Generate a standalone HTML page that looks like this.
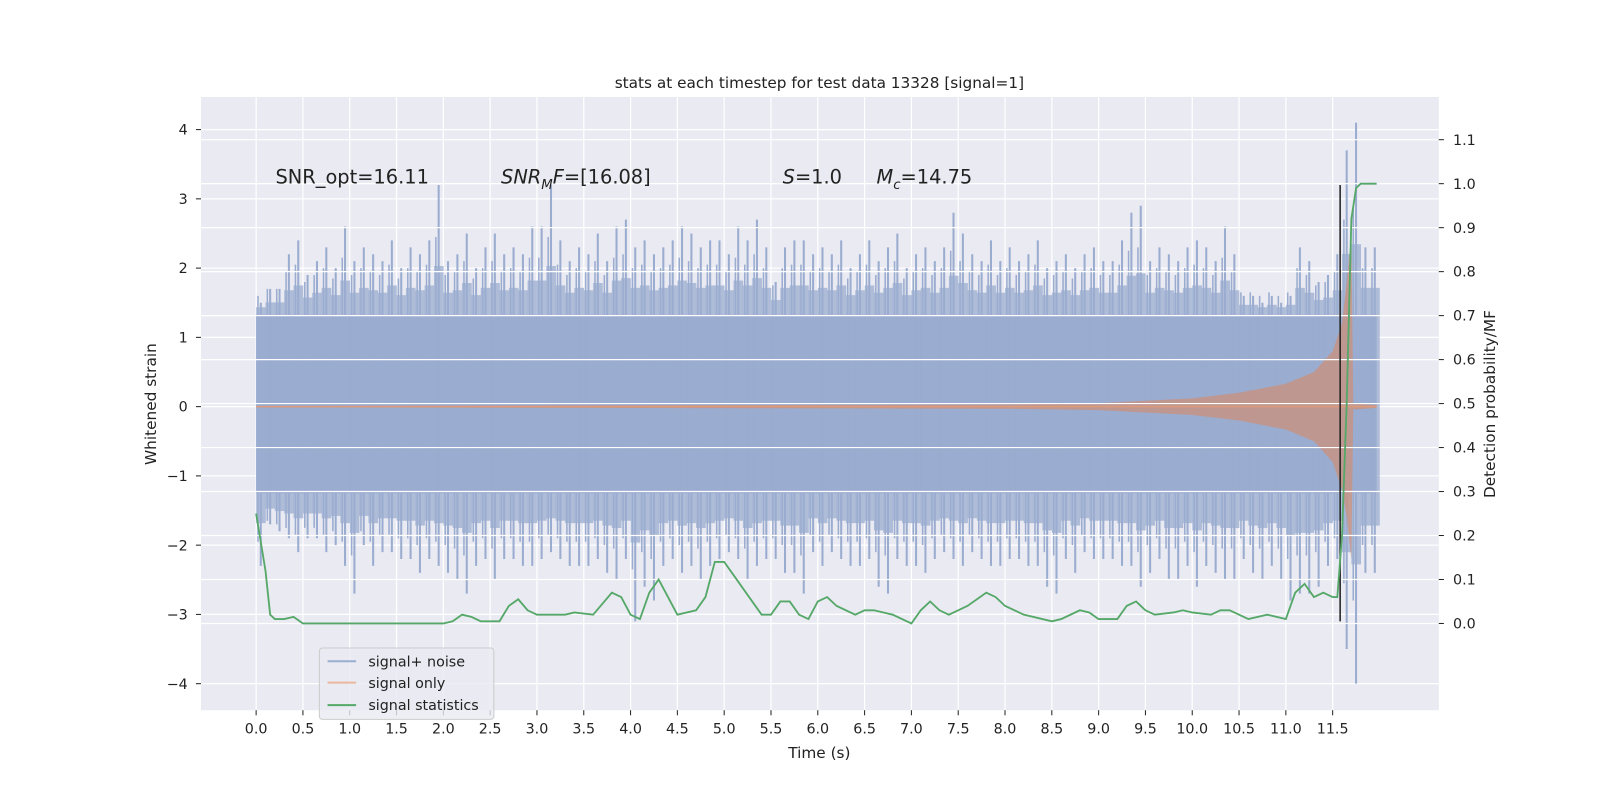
<!DOCTYPE html>
<html><head><meta charset="utf-8"><style>
html,body{margin:0;padding:0;width:1600px;height:800px;overflow:hidden;background:#fff}
svg{display:block;font-family:"DejaVu Sans","Liberation Sans",sans-serif}
</style></head><body>
<svg id="chart" width="1600" height="800" viewBox="0 0 1568 784" xmlns="http://www.w3.org/2000/svg">
<rect x="197" y="95" width="1213" height="601" fill="#eaeaf2"/>
<g id="grid-left"></g>
<g id="noise"></g>
<g id="sig"></g>
<g id="grid-right"></g>
<g id="stat"></g>
<g id="axes"></g>
<text x="803" y="86" font-size="15" text-anchor="middle" fill="#222">stats at each timestep for test data 13328 [signal=1]</text>
<text x="803" y="743" font-size="15" text-anchor="middle" fill="#222">Time (s)</text>
<text transform="translate(153,396) rotate(-90)" font-size="15" text-anchor="middle" fill="#222">Whitened strain</text>
<text transform="translate(1465,396) rotate(-90)" font-size="15" text-anchor="middle" fill="#222">Detection probability/MF</text>
<g font-size="19" fill="#222">
<text x="270" y="180">SNR_opt=16.11</text>
<text x="491" y="180"><tspan font-style="italic">SNR</tspan><tspan font-style="italic" font-size="13" dy="5">M</tspan><tspan font-style="italic" dy="-5">F</tspan>=[16.08]</text>
<text x="767" y="180"><tspan font-style="italic">S</tspan>=1.0</text>
<text x="859" y="180"><tspan font-style="italic">M</tspan><tspan font-style="italic" font-size="13" dy="5">c</tspan><tspan dy="-5">=14.75</tspan></text>
</g>
<g>
<rect x="313" y="635" width="171" height="70" rx="3" fill="#eaeaf2" fill-opacity="0.8" stroke="#ccc"/>
<line x1="321" y1="648" x2="349" y2="648" stroke="#9aaed2" stroke-width="2"/>
<text x="361" y="653" font-size="14" fill="#222">signal+ noise</text>
<line x1="321" y1="669" x2="349" y2="669" stroke="#e8b79e" stroke-width="2"/>
<text x="361" y="674" font-size="14" fill="#222">signal only</text>
<line x1="321" y1="691" x2="349" y2="691" stroke="#55a868" stroke-width="2"/>
<text x="361" y="696" font-size="14" fill="#222">signal statistics</text>
</g>
</svg>
<script>
const xTicks=[0,0.5,1,1.5,2,2.5,3,3.5,4,4.5,5,5.5,6,6.5,7,7.5,8,8.5,9,9.5,10,10.5,11,11.5];
const yTicks=[-4,-3,-2,-1,0,1,2,3,4];
const rTicks=[0,0.1,0.2,0.3,0.4,0.5,0.6,0.7,0.8,0.9,1.0,1.1];
// noise peaks per 0.1s bin
const noiseUp=[1.5,1.7,1.7,2.2,2.4,1.9,2.1,2.3,2.0,2.6,2.1,2.3,2.2,2.1,2.4,2.0,2.3,2.2,2.4,3.2,2.1,2.2,2.5,2.0,2.3,2.5,2.2,2.3,2.2,2.6,2.6,3.2,2.4,2.1,2.3,2.2,2.5,2.1,2.6,2.7,2.3,2.4,2.2,2.3,2.4,2.6,2.5,2.3,2.4,2.4,2.2,2.6,2.4,2.7,2.3,1.8,2.3,2.4,2.4,2.2,2.3,2.2,2.4,2.0,2.2,2.4,2.1,2.3,2.5,2.0,2.2,2.3,2.1,2.3,2.8,2.5,2.2,2.1,2.4,2.1,2.3,2.1,2.2,2.4,2.0,2.1,2.2,2.0,2.2,2.3,2.1,2.1,2.4,2.8,2.9,2.1,2.3,2.2,2.1,2.3,2.4,2.3,2.1,2.6,2.2,1.6,1.6,1.5,1.6,1.5,1.6,2.3,2.1,1.8,1.9,2.2,3.7,4.1,2.3,2.3];
const noiseDn=[-2.3,-1.7,-1.8,-1.9,-2.1,-1.9,-1.9,-2.1,-2.0,-2.3,-2.7,-2.0,-2.3,-2.1,-2.1,-2.2,-2.2,-2.4,-2.2,-2.3,-2.4,-2.5,-2.7,-2.3,-2.2,-2.5,-2.2,-2.2,-2.3,-2.3,-2.2,-2.1,-2.2,-2.3,-2.3,-2.3,-2.2,-2.4,-2.5,-2.2,-3.1,-2.6,-2.8,-2.3,-2.2,-2.4,-2.3,-2.5,-2.3,-2.2,-2.1,-2.2,-2.5,-2.3,-2.2,-2.2,-2.4,-2.4,-2.7,-2.1,-2.3,-2.1,-2.2,-2.3,-2.3,-2.2,-2.6,-2.7,-2.2,-2.3,-2.3,-2.4,-2.2,-2.1,-2.2,-2.3,-2.1,-2.2,-2.3,-2.3,-2.2,-2.2,-2.3,-2.3,-2.6,-2.7,-2.2,-2.4,-2.1,-2.2,-2.2,-2.2,-2.3,-2.3,-2.6,-2.4,-2.2,-2.5,-2.5,-2.3,-2.6,-2.3,-2.4,-2.5,-2.5,-2.2,-2.4,-2.5,-2.3,-2.5,-2.8,-2.7,-2.7,-2.6,-2.3,-2.2,-3.5,-4.0,-2.4,-2.4];
const sigT=[0,8,9,10,10.5,11,11.3,11.5,11.6,11.65,11.7,11.72,11.97];
const sigAmp=[0.01,0.03,0.05,0.12,0.2,0.33,0.5,0.8,1.2,1.8,2.5,0.05,0.02];
const statT=[0,0.1,0.15,0.2,0.3,0.4,0.5,0.7,1.0,1.5,1.8,2.0,2.1,2.2,2.3,2.4,2.6,2.7,2.8,2.9,3.0,3.3,3.4,3.6,3.7,3.8,3.9,4.0,4.1,4.2,4.3,4.4,4.5,4.7,4.8,4.9,5.0,5.1,5.2,5.4,5.5,5.6,5.7,5.8,5.9,6.0,6.1,6.2,6.4,6.5,6.6,6.8,7.0,7.1,7.2,7.3,7.4,7.5,7.6,7.8,7.9,8.0,8.2,8.4,8.5,8.6,8.8,8.9,9.0,9.2,9.3,9.4,9.5,9.6,9.8,9.9,10.0,10.2,10.3,10.4,10.5,10.6,10.8,11.0,11.1,11.2,11.3,11.4,11.5,11.55,11.6,11.65,11.7,11.75,11.8,11.97];
const statV=[0.25,0.12,0.02,0.01,0.01,0.015,0.0,0.0,0.0,0.0,0.0,0.0,0.005,0.02,0.015,0.005,0.005,0.04,0.055,0.03,0.02,0.02,0.025,0.02,0.045,0.07,0.06,0.02,0.01,0.07,0.1,0.06,0.02,0.03,0.06,0.14,0.14,0.11,0.08,0.02,0.02,0.05,0.05,0.02,0.01,0.05,0.06,0.04,0.02,0.03,0.03,0.02,0.0,0.03,0.05,0.03,0.02,0.03,0.04,0.07,0.06,0.04,0.02,0.01,0.005,0.01,0.03,0.025,0.01,0.01,0.04,0.05,0.03,0.02,0.025,0.03,0.025,0.02,0.03,0.03,0.02,0.01,0.02,0.01,0.07,0.09,0.06,0.07,0.06,0.06,0.2,0.5,0.92,0.99,1.0,1.0];
const vline=[11.58,3.2,-3.1];

const NS='http://www.w3.org/2000/svg';
const X=t=>251+t*(1306-251)/11.5;
const Y=v=>398.5-v*67.875;
const R=p=>611-p*431;
function mk(tag,attrs,parent){const e=document.createElementNS(NS,tag);for(const k in attrs)e.setAttribute(k,attrs[k]);document.getElementById(parent).appendChild(e);return e;}

yTicks.forEach(v=>{const l=mk('line',{x1:197,x2:1410,y1:Y(v),y2:Y(v),stroke:'#fff','stroke-width':1.2},'grid-left');

});
xTicks.forEach(t=>{const l=mk('line',{x1:X(t),x2:X(t),y1:95,y2:696,stroke:'#fff','stroke-width':1.2},'grid-left');

});

const band=mk('rect',{x:X(0),y:Y(1.32),width:X(11.97)-X(0),height:Y(-1.25)-Y(1.32),fill:'#9aaccf'},'noise');


noiseUp.forEach((u,i)=>{
 const d=noiseDn[i];const t=i*0.1;
 const hu=Math.min(u,1.4+(u-1.4)*0.35), hd=Math.max(d,-1.35+(d+1.35)*0.35);
 const r=mk('rect',{x:X(t),y:Y(hu),width:X(0.1)-X(0)+0.3,height:Y(hd)-Y(hu),fill:'#9aaccf','fill-opacity':0.75},'noise');
 
 
 const s=mk('line',{x1:X(t+0.05),x2:X(t+0.05),y1:Y(u),y2:Y(d),stroke:'#9aaccf','stroke-width':2},'noise');
 
 
 const s2=mk('line',{x1:X(t+0.02),x2:X(t+0.02),y1:Y((u+1.4)/2+0.15),y2:Y((d-1.3)/2-0.15),stroke:'#9aaccf','stroke-width':1.5},'noise');
 
 
});

let up='',dn='';
sigT.forEach((t,i)=>{up+=(i?'L':'M')+X(t)+','+Y(sigAmp[i]);});
for(let i=sigT.length-1;i>=0;i--){dn+='L'+X(sigT[i])+','+Y(-sigAmp[i]*(sigT[i]>11.6?0.88:1));}
const sp=mk('path',{d:up+dn+'Z',fill:'#cf8f76','fill-opacity':0.7},'sig');


const sl=mk('line',{x1:X(0),x2:X(11.97),y1:Y(0),y2:Y(0),stroke:'#dd9a7a','stroke-width':1.5},'sig');



rTicks.forEach(p=>{const l=mk('line',{x1:197,x2:1410,y1:R(p),y2:R(p),stroke:'#fff','stroke-width':1.2},'grid-right');

});

const vl=mk('line',{x1:X(vline[0]),x2:X(vline[0]),y1:Y(vline[1]),y2:Y(vline[2]),stroke:'#222','stroke-width':1.5},'stat');


const sp2=mk('polyline',{points:statT.map((t,i)=>X(t)+','+R(statV[i])).join(' '),fill:'none',stroke:'#55a868','stroke-width':1.8},'stat');



xTicks.forEach(t=>{
 const k=mk('line',{x1:X(t),x2:X(t),y1:696,y2:701,stroke:'#222'},'axes');
 
 
 const tx=mk('text',{x:X(t),y:719,'font-size':14,'text-anchor':'middle',fill:'#222'},'axes');
 tx.textContent=t.toFixed(1);
 
 
});
yTicks.forEach(v=>{
 const k=mk('line',{x1:192,x2:197,y1:Y(v),y2:Y(v),stroke:'#222'},'axes');
 
 
 const tx=mk('text',{x:184,y:Y(v)+5,'font-size':14,'text-anchor':'end',fill:'#222'},'axes');
 tx.textContent=v<0?'\u2212'+(-v):String(v);
 
 
});
rTicks.forEach(p=>{
 const k=mk('line',{x1:1410,x2:1415,y1:R(p),y2:R(p),stroke:'#222'},'axes');
 
 
 const tx=mk('text',{x:1424,y:R(p)+5,'font-size':14,fill:'#222'},'axes');
 tx.textContent=p.toFixed(1);
 
 
});
</script>
</body></html>
